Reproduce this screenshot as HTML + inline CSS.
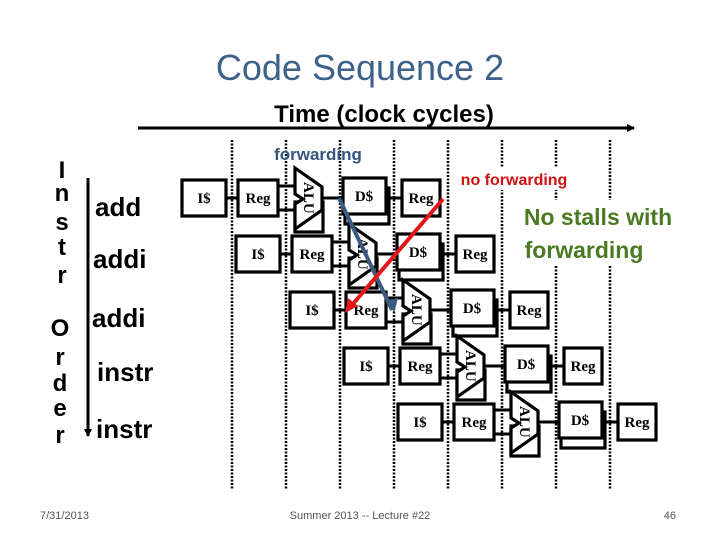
<!DOCTYPE html>
<html><head><meta charset="utf-8"><style>
body{margin:0;background:#fff;width:720px;height:540px;overflow:hidden}
svg{display:block}
.b{fill:#fff;stroke:#000;stroke-width:3.2}
.t{font-family:"Liberation Serif",serif;font-weight:bold;font-size:15px;fill:#000}
.s{font-family:"Liberation Sans",sans-serif;font-weight:bold;fill:#000}
</style></head><body>
<svg width="720" height="540" viewBox="0 0 720 540">
<defs>
<marker id="ah" markerWidth="8" markerHeight="8" refX="7" refY="4" orient="auto" markerUnits="userSpaceOnUse"><path d="M0,0 L8,4 L0,8 z" fill="#000"/></marker>
<g id="row">
  <line x1="44" y1="18" x2="56" y2="18" stroke="#000" stroke-width="3"/>
  <line x1="96" y1="6" x2="113" y2="6" stroke="#000" stroke-width="3"/>
  <line x1="96" y1="30" x2="113" y2="30" stroke="#000" stroke-width="3"/>
  <line x1="140" y1="18" x2="161" y2="18" stroke="#000" stroke-width="3"/>
  <line x1="204" y1="18" x2="220" y2="18" stroke="#000" stroke-width="3"/>
  <rect class="b" x="0" y="0" width="44" height="36"/>
  <text class="t" x="22" y="23" text-anchor="middle">I$</text>
  <rect class="b" x="56" y="0" width="40" height="36"/>
  <text class="t" x="76" y="23" text-anchor="middle">Reg</text>
  <rect class="b" x="113" y="22" width="28" height="30"/>
  <polygon class="b" points="113,-12 140,7 140,30 113,49 113,24 121,19 113,14"/>
  <text class="t" x="0" y="0" transform="translate(122,2) rotate(90)">ALU</text>
  <rect class="b" x="163" y="8" width="44" height="36"/>
  <rect class="b" x="161" y="-2" width="43" height="36"/>
  <text class="t" x="182" y="21" text-anchor="middle">D$</text>
  <rect class="b" x="220" y="0" width="38" height="36"/>
  <text class="t" x="239" y="23" text-anchor="middle">Reg</text>
</g>
</defs>
<text x="360" y="80" text-anchor="middle" font-family="Liberation Sans,sans-serif" font-size="36" fill="#3d6188">Code Sequence 2</text>
<text class="s" x="384" y="122" text-anchor="middle" font-size="24">Time (clock cycles)</text>
<line x1="138" y1="128" x2="634" y2="128" stroke="#000" stroke-width="3" marker-end="url(#ah)"/>
<g stroke="#000" stroke-width="2.5" stroke-dasharray="2,1.5">
<line x1="232" y1="140" x2="232" y2="490"/><line x1="286" y1="140" x2="286" y2="490"/>
<line x1="340" y1="140" x2="340" y2="490"/><line x1="394" y1="140" x2="394" y2="490"/>
<line x1="448" y1="140" x2="448" y2="490"/><line x1="502" y1="140" x2="502" y2="490"/>
<line x1="556" y1="140" x2="556" y2="490"/><line x1="610" y1="140" x2="610" y2="490"/>
</g>
<use href="#row" x="182" y="180"/>
<use href="#row" x="236" y="236"/>
<use href="#row" x="290" y="292"/>
<use href="#row" x="344" y="348"/>
<use href="#row" x="398" y="404"/>
<g class="s" font-size="24" text-anchor="middle">
<text x="62" y="178">I</text><text x="62" y="201">n</text><text x="62" y="230">s</text><text x="62" y="255">t</text><text x="62" y="283">r</text>
<text x="60" y="336">O</text><text x="60" y="365">r</text><text x="60" y="391">d</text><text x="60" y="416">e</text><text x="60" y="443">r</text>
</g>
<line x1="88" y1="178" x2="88" y2="436" stroke="#000" stroke-width="3" marker-end="url(#ah)"/>
<g class="s" font-size="26">
<text x="95" y="216">add</text><text x="93" y="268">addi</text><text x="92" y="327">addi</text><text x="97" y="381">instr</text><text x="96" y="438">instr</text>
</g>
<text x="318" y="160" text-anchor="middle" font-family="Liberation Sans,sans-serif" font-weight="bold" font-size="17" fill="#33557f">forwarding</text>
<rect x="454" y="168" width="122" height="22" fill="#fff"/>
<text x="514" y="185" text-anchor="middle" font-family="Liberation Sans,sans-serif" font-weight="bold" font-size="16" fill="#d01010">no forwarding</text>
<rect x="516" y="200" width="164" height="66" fill="#fff"/>
<text x="598" y="225" text-anchor="middle" font-family="Liberation Sans,sans-serif" font-weight="bold" font-size="23" fill="#4a7a23">No stalls with</text>
<text x="584" y="258" text-anchor="middle" font-family="Liberation Sans,sans-serif" font-weight="bold" font-size="23" fill="#4a7a23">forwarding</text>
<line x1="339" y1="198" x2="392" y2="310" stroke="#3a5a80" stroke-width="4"/>
<polygon points="388,300 394,313 398,298" fill="#3a5a80"/>
<line x1="443" y1="199" x2="352" y2="305" stroke="#e01818" stroke-width="4"/>
<polygon points="345,313 348,298 358,306" fill="#e01818"/>
<g font-family="Liberation Sans,sans-serif" font-size="11" fill="#555">
<text x="40" y="519">7/31/2013</text>
<text x="360" y="519" text-anchor="middle">Summer 2013 -- Lecture #22</text>
<text x="676" y="519" text-anchor="end">46</text>
</g>
</svg>
</body></html>
